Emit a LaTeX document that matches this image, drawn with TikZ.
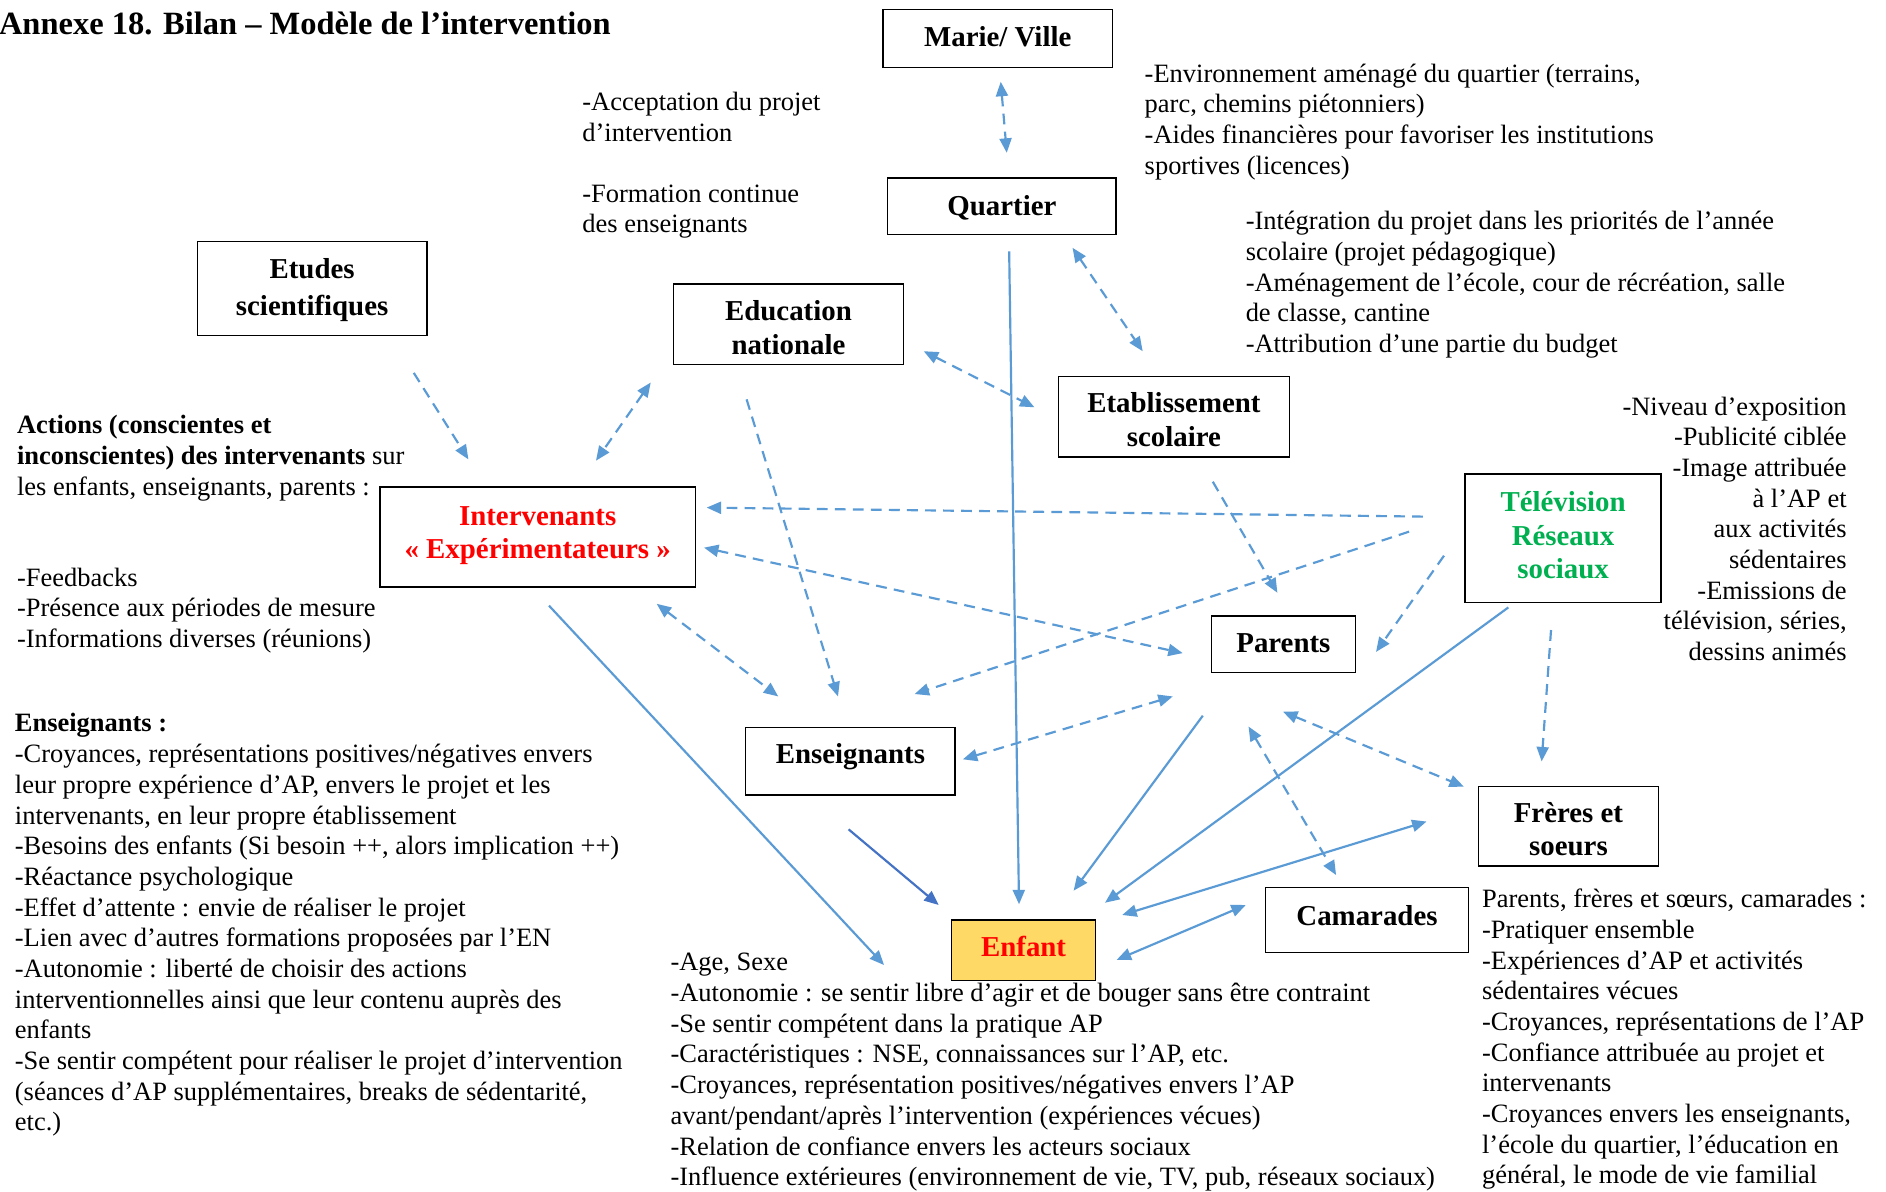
\documentclass[tikz,border=0pt]{standalone}
\usepackage{fontspec}
\setmainfont{Liberation Serif}
\usetikzlibrary{arrows.meta}
\definecolor{lblue}{HTML}{5B9BD5}
\definecolor{dblue}{HTML}{4472C4}
\definecolor{goldfill}{HTML}{FFD966}
\definecolor{tvgreen}{HTML}{00B050}
\definecolor{redtxt}{HTML}{FF0000}
\newcommand{\bodyfont}{\fontsize{22}{25.5}\selectfont}
\newcommand{\boxfont}{\fontsize{24}{28}\selectfont\bfseries}
\newcommand{\titlefont}{\fontsize{27}{32}\selectfont\bfseries}
\newcommand{\lbl}[2]{\raisebox{#1}[\height][\depth]{\begin{tabular}{@{}c@{}}#2\end{tabular}}}
\begin{document}
\begin{tikzpicture}[x=1pt,y=-1pt,
  box/.style={draw=black, line width=1.2pt, rectangle, inner sep=0pt, font=\boxfont},
  txt/.style={anchor=north west, inner sep=0pt, align=left, font=\bodyfont},
  conn/.style={draw=lblue, line width=1.8pt},
  dsh/.style={conn, dash pattern=on 9pt off 6pt},
  >={Triangle[length=12pt,width=10pt]}
]
\fill[white] (0,0) rectangle (1568,991);
\useasboundingbox (0,0) rectangle (1568,991);

% title
\node[anchor=base west, inner sep=0pt, font=\titlefont] (title) at (-1,29) {Annexe 18. Bilan – Modèle de l’intervention};

% boxes
\node[box, minimum width=191pt, minimum height=48pt] (marie) at (829.5,32) {\lbl{-1.2pt}{Marie/ Ville}};
\node[box, minimum width=190pt, minimum height=47pt] (quartier) at (833,171.5) {\lbl{-1.7pt}{Quartier}};
\node[box, minimum width=191pt, minimum height=78pt, font=\fontsize{24}{31}\selectfont\bfseries] (etudes) at (259.5,240) {\lbl{-0.7pt}{Etudes\\scientifiques}};
\node[box, minimum width=191pt, minimum height=67pt] (educ) at (655.5,269.5) {\lbl{-5.5pt}{Education\\nationale}};
\node[box, minimum width=192pt, minimum height=67pt] (etab) at (976,346.5) {\lbl{-5pt}{Etablissement\\scolaire}};
\node[box, minimum width=262pt, minimum height=83pt, text=redtxt] (interv) at (447,446.5) {\lbl{1.5pt}{Intervenants\\« Expérimentateurs »}};
\node[box, minimum width=163pt, minimum height=107pt, text=tvgreen] (tele) at (1299.5,447.5) {\lbl{0pt}{Télévision\\Réseaux\\sociaux}};
\node[box, minimum width=120pt, minimum height=47pt] (parents) at (1067,535.5) {\lbl{-1.5pt}{Parents}};
\node[box, minimum width=174pt, minimum height=56pt] (enseig) at (707,633) {\lbl{3.5pt}{Enseignants}};
\node[box, minimum width=150pt, minimum height=66pt] (freres) at (1304,687) {\lbl{-5pt}{Frères et\\soeurs}};
\node[box, minimum width=169pt, minimum height=54pt] (camar) at (1136.5,765) {\lbl{1.5pt}{Camarades}};
\node[box, minimum width=120pt, minimum height=50pt, fill=goldfill, text=redtxt] (enfant) at (851,790) {\lbl{0pt}{Enfant}};

% text blocks
\node[txt] (tA) at (484,73.7) {\strut-Acceptation du projet\\d’intervention};
\node[txt] (tB) at (484,149.9) {\strut-Formation continue\\des enseignants};
\node[txt] (tC) at (951.5,50.2) {\strut-Environnement aménagé du quartier (terrains,\\parc, chemins piétonniers)\\-Aides financières pour favoriser les institutions\\sportives (licences)};
\node[txt] (tD) at (1035.5,172.9) {\strut-Intégration du projet dans les priorités de l’année\\scolaire (projet pédagogique)\\-Aménagement de l’école, cour de récréation, salle\\de classe, cantine\\-Attribution d’une partie du budget};
\node[txt, anchor=north east, align=right] (tE) at (1535.5,327.2) {\strut-Niveau d’exposition\\-Publicité ciblée\\-Image attribuée\\à l’AP et\\aux activités\\sédentaires\\-Emissions de\\télévision, séries,\\dessins animés};
\node[txt] (tF) at (14,342.5) {\strut\textbf{Actions (conscientes et}\\\textbf{inconscientes) des intervenants} sur\\les enfants, enseignants, parents :};
\node[txt] (tG) at (14,469.4) {\strut-Feedbacks\\-Présence aux périodes de mesure\\-Informations diverses (réunions)};
\node[txt] (tH) at (12.2,590.5) {\strut\textbf{Enseignants :}\\-Croyances, représentations positives/négatives envers\\leur propre expérience d’AP, envers le projet et les\\intervenants, en leur propre établissement\\-Besoins des enfants (Si besoin ++, alors implication ++)\\-Réactance psychologique\\-Effet d’attente : envie de réaliser le projet\\-Lien avec d’autres formations proposées par l’EN\\-Autonomie : liberté de choisir des actions\\interventionnelles ainsi que leur contenu auprès des\\enfants\\-Se sentir compétent pour réaliser le projet d’intervention\\(séances d’AP supplémentaires, breaks de sédentarité,\\etc.)};
\node[txt] (tI) at (557.3,789.2) {\strut-Age, Sexe\\-Autonomie : se sentir libre d’agir et de bouger sans être contraint\\-Se sentir compétent dans la pratique AP\\-Caractéristiques : NSE, connaissances sur l’AP, etc.\\-Croyances, représentation positives/négatives envers l’AP\\avant/pendant/après l’intervention (expériences vécues)\\-Relation de confiance envers les acteurs sociaux\\-Influence extérieures (environnement de vie, TV, pub, réseaux sociaux)};
\node[txt] (tJ) at (1232,736.6) {\strut Parents, frères et sœurs, camarades :\\-Pratiquer ensemble\\-Expériences d’AP et activités\\sédentaires vécues\\-Croyances, représentations de l’AP\\-Confiance attribuée au projet et\\intervenants\\-Croyances envers les enseignants,\\l’école du quartier, l’éducation en\\général, le mode de vie familial};

% connector end points
\coordinate (mq1) at (832,68);      \coordinate (mq2) at (837,127);
\coordinate (qe1) at (839,209);     \coordinate (qe2) at (847.2,751.8);
\coordinate (qs1) at (891.7,206);   \coordinate (qs2) at (950,292);
\coordinate (ns1) at (768,292);     \coordinate (ns2) at (860,338.6);
\coordinate (ni1) at (541,318);     \coordinate (ni2) at (495.5,383);
\coordinate (ei1) at (344,310);     \coordinate (ei2) at (389.4,381.9);
\coordinate (nt1) at (620.7,332);   \coordinate (nt2) at (696.7,579);
\coordinate (it1) at (546,502);     \coordinate (it2) at (647,579);
\coordinate (ie1) at (456.4,503.5); \coordinate (ie2) at (735,802.3);
\coordinate (sp1) at (1008.3,400.5);\coordinate (sp2) at (1062,492.8);
\coordinate (ti1) at (1183,429.5);  \coordinate (ti2) at (587.5,422);
\coordinate (tt1) at (1171.5,442);  \coordinate (tt2) at (760.4,577);
\coordinate (ip1) at (585.3,455.3); \coordinate (ip2) at (983.3,543);
\coordinate (tp1) at (1200.5,462);  \coordinate (tp2) at (1144,542);
\coordinate (te1) at (1254,505);    \coordinate (te2) at (918.7,750.5);
\coordinate (tf1) at (1289.5,523.8);\coordinate (tf2) at (1281.7,633);
\coordinate (pt1) at (975,579);     \coordinate (pt2) at (800.5,631.3);
\coordinate (pe1) at (1000,595);    \coordinate (pe2) at (892.6,740.5);
\coordinate (pf1) at (1066.7,591.7);\coordinate (pf2) at (1217,654);
\coordinate (pc1) at (1038,604);    \coordinate (pc2) at (1110.8,727.5);
\coordinate (ef1) at (933,760.7);   \coordinate (ef2) at (1186,683);
\coordinate (ec1) at (928.4,798);   \coordinate (ec2) at (1035.7,752.4);
\coordinate (se1) at (705.5,689.5); \coordinate (se2) at (780.4,752.4);

% connectors
\draw[dsh,<->] (mq1) -- (mq2);
\draw[conn,->] (qe1) -- (qe2);
\draw[dsh,<->] (qs1) -- (qs2);
\draw[dsh,<->] (ns1) -- (ns2);
\draw[dsh,<->] (ni1) -- (ni2);
\draw[dsh,->] (ei1) -- (ei2);
\draw[dsh,->] (nt1) -- (nt2);
\draw[dsh,<->] (it1) -- (it2);
\draw[conn,->] (ie1) -- (ie2);
\draw[dsh,->] (sp1) -- (sp2);
\draw[dsh,->] (ti1) -- (ti2);
\draw[dsh,->] (tt1) -- (tt2);
\draw[dsh,<->] (ip1) -- (ip2);
\draw[dsh,->] (tp1) -- (tp2);
\draw[conn,->] (te1) -- (te2);
\draw[dsh,->] (tf1) -- (tf2);
\draw[dsh,<->] (pt1) -- (pt2);
\draw[conn,->] (pe1) -- (pe2);
\draw[dsh,<->] (pf1) -- (pf2);
\draw[dsh,<->] (pc1) -- (pc2);
\draw[conn,<->] (ef1) -- (ef2);
\draw[conn,<->] (ec1) -- (ec2);
\draw[conn,draw=dblue,->] (se1) -- (se2);
\end{tikzpicture}
\end{document}
